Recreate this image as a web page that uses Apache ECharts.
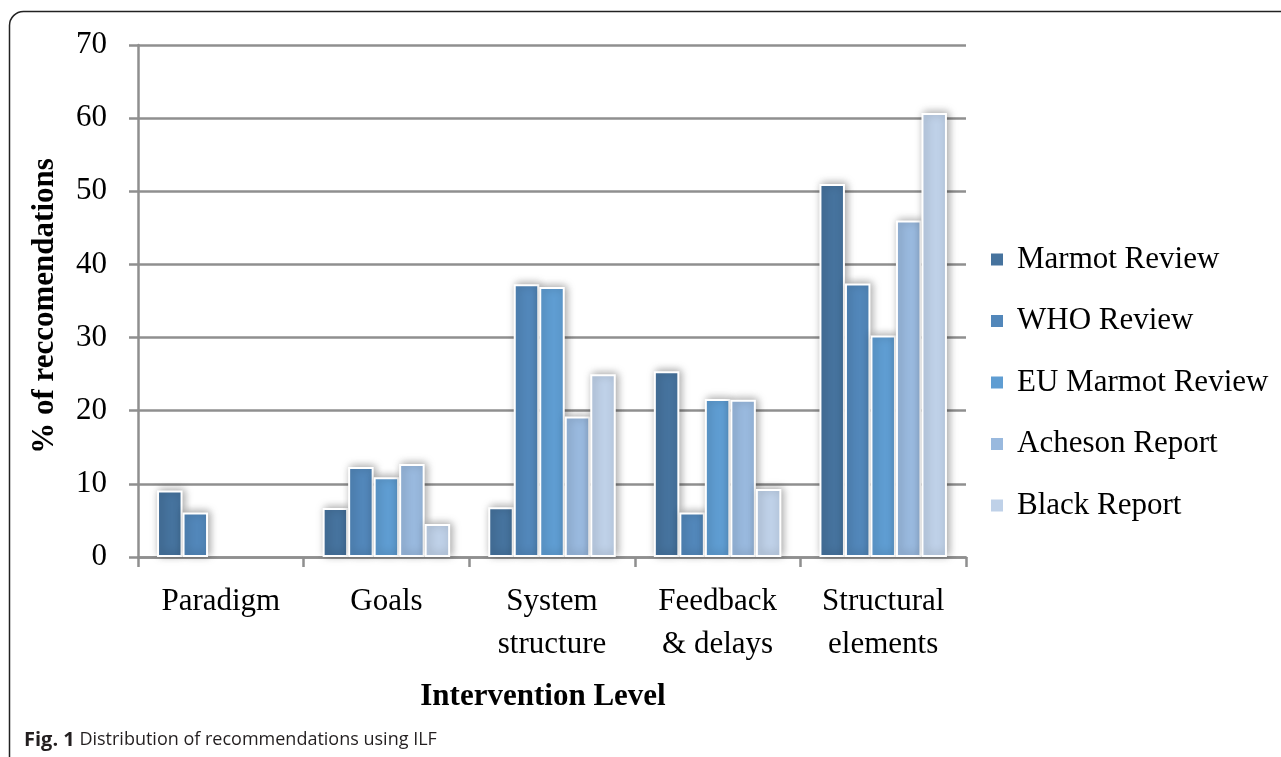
<!DOCTYPE html>
<html>
<head>
<meta charset="utf-8">
<script src="https://cdn.jsdelivr.net/npm/echarts@6/dist/echarts.min.js"></script>
<style>
html,body{margin:0;padding:0;background:#fff;}
#chart{width:1281px;height:757px;}
</style>
</head>
<body>
<div id="chart"></div>
<script>
const categories = ['Paradigm', 'Goals', 'System\nstructure', 'Feedback\n& delays', 'Structural\nelements'];
const seriesNames = ['Marmot Review', 'WHO Review', 'EU Marmot Review', 'Acheson Report', 'Black Report'];
const marmotReview = [9.1, 6.7, 6.8, 25.4, 51.0];
const whoReview = [6.1, 12.3, 37.3, 6.1, 37.4];
const euMarmotReview = [0, 10.9, 36.9, 21.6, 30.3];
const achesonReport = [0, 12.7, 19.2, 21.5, 46.0];
const blackReport = [0, 4.5, 25.0, 9.3, 60.7];
const yTicks = [0, 10, 20, 30, 40, 50, 60, 70];

const colors = ['#46739E', '#5287BA', '#5F9DD2', '#99B9DE', '#BFD1E8'];
const allData = [marmotReview, whoReview, euMarmotReview, achesonReport, blackReport];

const chart = echarts.init(document.getElementById('chart'));
const serif = 'Liberation Serif';
const gray = '#8f8f8f';

chart.setOption({
  animation: false,
  color: colors,
  grid: { left: 138, right: 315, top: 45, bottom: 200, containLabel: false },
  legend: {
    orient: 'vertical',
    left: 984,
    top: 239,
    icon: 'rect',
    itemWidth: 14,
    itemHeight: 14,
    itemGap: 30.5,
    selectedMode: false,
    textStyle: { fontFamily: serif, fontSize: 31, color: '#000', lineHeight: 31, padding: [0, 0, 0, 8] },
    data: seriesNames
  },
  xAxis: {
    type: 'category',
    data: categories,
    axisLine: { lineStyle: { color: gray, width: 2.5 } },
    axisTick: { show: true, length: 10, interval: 0, lineStyle: { color: gray, width: 2.5 } },
    axisLabel: { interval: 0, margin: 23, fontFamily: serif, fontSize: 31, color: '#000', lineHeight: 43 },
    splitLine: { show: false }
  },
  yAxis: {
    type: 'value',
    min: 0,
    max: 70,
    interval: 10,
    axisLine: { show: true, lineStyle: { color: gray, width: 2.5 } },
    axisTick: { show: true, length: 9, lineStyle: { color: gray, width: 2.5 } },
    axisLabel: { margin: 31, fontFamily: serif, fontSize: 31, color: '#000',
      formatter: v => yTicks.indexOf(v) >= 0 ? String(v) : '' },
    splitLine: { show: true, lineStyle: { color: gray, width: 2.5 } }
  },
  series: seriesNames.map((name, i) => ({
    name: name,
    type: 'bar',
    data: allData[i].map(v => v === 0
      ? { value: v, itemStyle: { borderWidth: 0, shadowBlur: 0, opacity: 0 } }
      : v),
    barGap: '0%',
    barCategoryGap: '23%',
    itemStyle: {
      color: colors[i],
      borderColor: '#ffffff',
      borderWidth: 2,
      shadowBlur: 8,
      shadowColor: 'rgba(0,0,0,0.35)',
      shadowOffsetX: 2,
      shadowOffsetY: -1
    }
  })),
  graphic: [
    {
      type: 'rect',
      shape: { x: 9.5, y: 11.5, width: 1300, height: 770, r: [14, 0, 0, 14] },
      style: { fill: 'none', stroke: '#222', lineWidth: 1.5 },
      silent: true, z: -10
    },
    {
      type: 'text',
      x: 45, y: 306,
      rotation: Math.PI / 2,
      style: { text: '% of reccomendations', font: 'bold 31px "Liberation Serif"', fill: '#000', align: 'center', verticalAlign: 'middle' }
    },
    {
      type: 'text',
      x: 543, y: 697,
      style: { text: 'Intervention Level', font: 'bold 31px "Liberation Serif"', fill: '#000', align: 'center', verticalAlign: 'middle' }
    },
    {
      type: 'text',
      x: 24, y: 740,
      style: {
        text: '{b|Fig. 1} {r|Distribution of recommendations using ILF}',
        rich: {
          b: { fontFamily: 'Open Sans', fontWeight: 'bold', fontSize: 20, fill: '#231f20' },
          r: { fontFamily: 'Open Sans', fontSize: 18, fill: '#231f20' }
        },
        fontFamily: 'Open Sans', fontSize: 18, fill: '#231f20', verticalAlign: 'middle'
      }
    }
  ]
});
</script>
</body>
</html>
